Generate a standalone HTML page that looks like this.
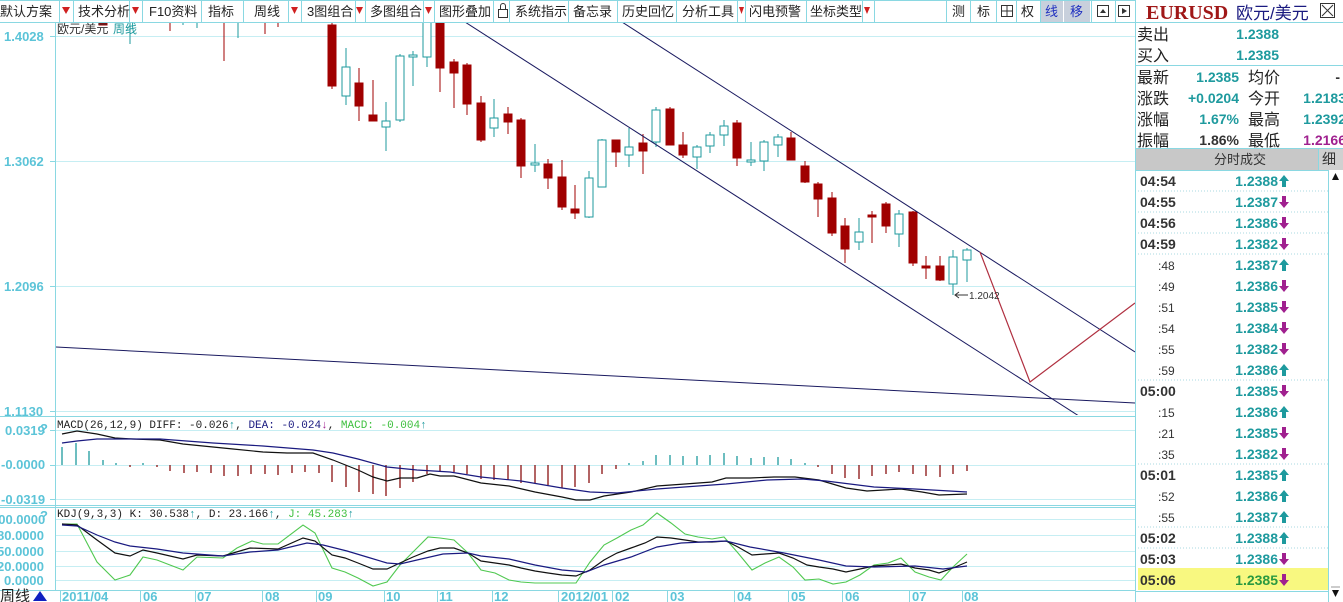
<!DOCTYPE html>
<html><head><meta charset="utf-8"><style>
html,body{margin:0;padding:0;background:#fff;overflow:hidden}
svg{display:block}
.tb{font:13px "Liberation Sans","Noto Sans CJK SC",sans-serif;fill:#222}
.ax{font:bold 13px "Liberation Sans",sans-serif;fill:#5cc4d8}
.lb{font:16px "Liberation Sans","Noto Sans CJK SC",sans-serif;fill:#222}
.v{font:bold 14px "Liberation Sans",sans-serif;fill:#1e9a9e}
.t{font:bold 14px "Liberation Sans",sans-serif;fill:#333}
.st{font:12px "Liberation Sans",sans-serif;fill:#333}
.mono{font:11px "Liberation Mono","Noto Sans CJK SC",monospace}
</style></head><body>
<svg width="1343" height="602" viewBox="0 0 1343 602" xmlns="http://www.w3.org/2000/svg">
<defs><clipPath id="cm"><rect x="56" y="23" width="1079" height="392"/></clipPath>
<symbol id="up" viewBox="0 0 10 12"><polygon points="5,0 10,6 7,6 7,12 3,12 3,6 0,6" fill="#1e9a9e"/></symbol>
<symbol id="dn" viewBox="0 0 10 12"><polygon points="5,12 10,6 7,6 7,0 3,0 3,6 0,6" fill="#a0208f"/></symbol>
</defs>

<!-- toolbar -->
<rect x="0" y="0" width="1135" height="22" fill="#fff"/>
<g stroke="#8ad8e2" stroke-width="1">
<line x1="0" y1="22.5" x2="1343" y2="22.5"/>
<line x1="0" y1="0.5" x2="1135" y2="0.5"/>
<line x1="59.5" y1="0" x2="59.5" y2="22"/><line x1="73.5" y1="0" x2="73.5" y2="22"/>
<line x1="129.5" y1="0" x2="129.5" y2="22"/><line x1="142.5" y1="0" x2="142.5" y2="22"/>
<line x1="201.5" y1="0" x2="201.5" y2="22"/><line x1="243.5" y1="0" x2="243.5" y2="22"/>
<line x1="288.5" y1="0" x2="288.5" y2="22"/><line x1="301.5" y1="0" x2="301.5" y2="22"/>
<line x1="355.5" y1="0" x2="355.5" y2="22"/><line x1="365.5" y1="0" x2="365.5" y2="22"/>
<line x1="423.5" y1="0" x2="423.5" y2="22"/><line x1="434.5" y1="0" x2="434.5" y2="22"/>
<line x1="493.5" y1="0" x2="493.5" y2="22"/><line x1="509.5" y1="0" x2="509.5" y2="22"/>
<line x1="568.5" y1="0" x2="568.5" y2="22"/><line x1="617.5" y1="0" x2="617.5" y2="22"/>
<line x1="676.5" y1="0" x2="676.5" y2="22"/><line x1="737.5" y1="0" x2="737.5" y2="22"/>
<line x1="745.5" y1="0" x2="745.5" y2="22"/><line x1="806.5" y1="0" x2="806.5" y2="22"/>
<line x1="862.5" y1="0" x2="862.5" y2="22"/><line x1="874.5" y1="0" x2="874.5" y2="22"/>
<line x1="946.5" y1="0" x2="946.5" y2="22"/><line x1="970.5" y1="0" x2="970.5" y2="22"/>
<line x1="996.5" y1="0" x2="996.5" y2="22"/><line x1="1016.5" y1="0" x2="1016.5" y2="22"/>
<line x1="1040.5" y1="0" x2="1040.5" y2="22"/><line x1="1091.5" y1="0" x2="1091.5" y2="22"/>
<line x1="1115.5" y1="0" x2="1115.5" y2="22"/><line x1="1135.5" y1="0" x2="1135.5" y2="602"/>
</g>
<rect x="1041" y="1" width="22" height="21" fill="#c8d0dc"/><rect x="1064" y="1" width="26" height="21" fill="#c8d0dc"/>
<g fill="#d02020">
<polygon points="62,7 70,7 66,14"/><polygon points="132,7 139,7 135.5,14"/><polygon points="291,7 298,7 294.5,14"/>
<polygon points="356,7 363,7 359.5,14"/><polygon points="425,7 432,7 428.5,14"/><polygon points="739,7 744,7 741.5,14"/><polygon points="864,7 870,7 867,14"/>
</g>
<g class="tb">
<text x="0" y="16">默认方案</text><text x="78" y="16">技术分析</text><text x="149" y="16">F10资料</text>
<text x="208" y="16">指标</text><text x="254" y="16">周线</text><text x="307" y="16">3图组合</text>
<text x="370" y="16">多图组合</text><text x="439" y="16">图形叠加</text><text x="515" y="16">系统指示</text>
<text x="573" y="16">备忘录</text><text x="622" y="16">历史回忆</text><text x="682" y="16">分析工具</text>
<text x="749" y="16">闪电预警</text><text x="810" y="16">坐标类型</text>
<text x="952" y="16">测</text><text x="977" y="16">标</text><text x="1021" y="16">权</text>
<text x="1045" y="16" style="fill:#2030c0">线</text><text x="1070" y="16" style="fill:#2030c0">移</text>
</g>
<g fill="none" stroke="#333"><rect x="498.5" y="9.5" width="9" height="8"/><path d="M500.5 9.5 V6 a2.5 2.5 0 0 1 5 0 V9.5"/>
<rect x="1001.5" y="5.5" width="11" height="11"/><line x1="1007" y1="5.5" x2="1007" y2="16.5"/><line x1="1001.5" y1="11" x2="1012.5" y2="11"/>
<rect x="1097.5" y="5.5" width="11" height="11"/><rect x="1118.5" y="5.5" width="11" height="11"/></g>
<polygon points="1100,13 1106,13 1103,9" fill="#333"/><polygon points="1122,8 1127,11 1122,14" fill="#333"/>

<!-- chart frames -->
<g stroke="#c6eef3" stroke-width="1">
<line x1="56" y1="36.5" x2="1135" y2="36.5"/><line x1="56" y1="161.5" x2="1135" y2="161.5"/>
<line x1="56" y1="286.5" x2="1135" y2="286.5"/><line x1="56" y1="411.5" x2="1135" y2="411.5"/>
<line x1="56" y1="430.5" x2="1135" y2="430.5"/><line x1="56" y1="465.5" x2="1135" y2="465.5"/><line x1="56" y1="499.5" x2="1135" y2="499.5"/>
<line x1="56" y1="519.5" x2="1135" y2="519.5"/><line x1="56" y1="535.5" x2="1135" y2="535.5"/><line x1="56" y1="551.5" x2="1135" y2="551.5"/>
<line x1="56" y1="566.5" x2="1135" y2="566.5"/><line x1="56" y1="580.5" x2="1135" y2="580.5"/>
</g>
<g stroke="#8ad8e2" stroke-width="1">
<line x1="55.5" y1="22" x2="55.5" y2="590"/>
<line x1="0" y1="416.5" x2="1135" y2="416.5"/><line x1="0" y1="505.5" x2="1135" y2="505.5"/><line x1="0" y1="507.5" x2="1135" y2="507.5"/>
<line x1="0" y1="590.5" x2="1135" y2="590.5"/>
<line x1="50" y1="36.5" x2="55" y2="36.5"/><line x1="50" y1="161.5" x2="55" y2="161.5"/><line x1="50" y1="286.5" x2="55" y2="286.5"/><line x1="50" y1="411.5" x2="55" y2="411.5"/>
<line x1="50" y1="430.5" x2="55" y2="430.5"/><line x1="50" y1="465.5" x2="55" y2="465.5"/><line x1="50" y1="499.5" x2="55" y2="499.5"/>
</g>
<g class="ax">
<text x="4" y="41">1.4028</text><text x="4" y="166">1.3062</text><text x="4" y="291">1.2096</text><text x="4" y="416">1.1130</text>
<text x="5" y="435">0.0319</text><text x="1" y="469">-0.0000</text><text x="1" y="504">-0.0319</text>
<text x="-9" y="524">100.0000</text><text x="-3" y="540">80.0000</text><text x="-3" y="556">50.0000</text><text x="-3" y="571">20.0000</text><text x="4" y="585">0.0000</text>
<text x="40" y="433">?</text><text x="40" y="520">?</text>
</g>

<!-- main candles -->
<g clip-path="url(#cm)">
<g stroke="#a00000" fill="#a00000">
<line x1="170" y1="22" x2="170" y2="31"/><line x1="224" y1="22" x2="224" y2="61"/><line x1="265" y1="22" x2="265" y2="34"/><line x1="278" y1="22" x2="278" y2="27"/>
<rect x="99" y="22" width="8" height="3"/>
</g>
<g stroke="#1e9a9e"><line x1="130" y1="22" x2="130" y2="44"/><line x1="197" y1="22" x2="197" y2="28"/><line x1="238" y1="22" x2="238" y2="38"/><line x1="183" y1="22" x2="183" y2="25"/></g>
<g stroke="#a00000" fill="#a00000" stroke-width="1">
<line x1="332" y1="20" x2="332" y2="89"/><rect x="328" y="25" width="8" height="61"/>
<line x1="359" y1="68" x2="359" y2="121"/><rect x="355" y="83" width="8" height="23"/>
<line x1="373" y1="80" x2="373" y2="121"/><rect x="369" y="115" width="8" height="6"/>
<line x1="440" y1="10" x2="440" y2="92"/><rect x="436" y="15" width="8" height="53"/>
<line x1="454" y1="59" x2="454" y2="108"/><rect x="450" y="62" width="8" height="11"/>
<line x1="467" y1="63" x2="467" y2="115"/><rect x="463" y="65" width="8" height="39"/>
<line x1="481" y1="96" x2="481" y2="142"/><rect x="477" y="103" width="8" height="37"/>
<line x1="508" y1="107" x2="508" y2="134"/><rect x="504" y="114" width="8" height="8"/>
<line x1="521" y1="118" x2="521" y2="178"/><rect x="517" y="120" width="8" height="46"/>
<line x1="548" y1="159" x2="548" y2="189"/><rect x="544" y="164" width="8" height="14"/>
<line x1="562" y1="160" x2="562" y2="210"/><rect x="558" y="177" width="8" height="30"/>
<line x1="575" y1="185" x2="575" y2="219"/><rect x="571" y="209" width="8" height="4"/>
<line x1="616" y1="140" x2="616" y2="167"/><rect x="612" y="140" width="8" height="12"/>
<line x1="643" y1="134" x2="643" y2="174"/><rect x="639" y="143" width="8" height="8"/>
<line x1="670" y1="107" x2="670" y2="145"/><rect x="666" y="109" width="8" height="36"/>
<line x1="683" y1="132" x2="683" y2="158"/><rect x="679" y="145" width="8" height="10"/>
<line x1="737" y1="120" x2="737" y2="166"/><rect x="733" y="123" width="8" height="35"/>
<line x1="791" y1="132" x2="791" y2="160"/><rect x="787" y="138" width="8" height="22"/>
<line x1="805" y1="161" x2="805" y2="183"/><rect x="801" y="166" width="8" height="16"/>
<line x1="818" y1="182" x2="818" y2="217"/><rect x="814" y="184" width="8" height="15"/>
<line x1="832" y1="192" x2="832" y2="236"/><rect x="828" y="198" width="8" height="35"/>
<line x1="845" y1="218" x2="845" y2="263"/><rect x="841" y="226" width="8" height="23"/>
<line x1="872" y1="211" x2="872" y2="243"/><rect x="868" y="215" width="8" height="2"/>
<line x1="886" y1="202" x2="886" y2="233"/><rect x="882" y="204" width="8" height="22"/>
<line x1="913" y1="211" x2="913" y2="266"/><rect x="909" y="212" width="8" height="51"/>
<line x1="926" y1="256" x2="926" y2="279"/><rect x="922" y="266" width="8" height="2"/>
<line x1="940" y1="256" x2="940" y2="281"/><rect x="936" y="266" width="8" height="14"/>
</g>
<g stroke="#1e9a9e" fill="#fff" stroke-width="1">
<line x1="346" y1="48" x2="346" y2="105"/><rect x="342" y="67" width="8" height="29"/>
<line x1="386" y1="102" x2="386" y2="151"/><rect x="382" y="121" width="8" height="6"/>
<line x1="400" y1="54" x2="400" y2="122"/><rect x="396" y="56" width="8" height="64"/>
<line x1="413" y1="51" x2="413" y2="86"/><rect x="409" y="55" width="8" height="2"/>
<line x1="427" y1="10" x2="427" y2="67"/><rect x="423" y="15" width="8" height="42"/>
<line x1="494" y1="99" x2="494" y2="137"/><rect x="490" y="118" width="8" height="10"/>
<line x1="535" y1="144" x2="535" y2="172"/><rect x="531" y="163" width="8" height="2"/>
<line x1="589" y1="171" x2="589" y2="218"/><rect x="585" y="178" width="8" height="39"/>
<line x1="602" y1="139" x2="602" y2="187"/><rect x="598" y="140" width="8" height="47"/>
<line x1="629" y1="128" x2="629" y2="167"/><rect x="625" y="147" width="8" height="8"/>
<line x1="656" y1="107" x2="656" y2="147"/><rect x="652" y="110" width="8" height="32"/>
<line x1="697" y1="145" x2="697" y2="169"/><rect x="693" y="147" width="8" height="10"/>
<line x1="710" y1="132" x2="710" y2="153"/><rect x="706" y="135" width="8" height="11"/>
<line x1="724" y1="120" x2="724" y2="146"/><rect x="720" y="126" width="8" height="9"/>
<line x1="751" y1="142" x2="751" y2="166"/><rect x="747" y="160" width="8" height="2"/>
<line x1="764" y1="140" x2="764" y2="171"/><rect x="760" y="142" width="8" height="19"/>
<line x1="778" y1="134" x2="778" y2="157"/><rect x="774" y="137" width="8" height="8"/>
<line x1="859" y1="218" x2="859" y2="250"/><rect x="855" y="232" width="8" height="10"/>
<line x1="899" y1="210" x2="899" y2="247"/><rect x="895" y="214" width="8" height="20"/>
<line x1="953" y1="250" x2="953" y2="295"/><rect x="949" y="257" width="8" height="27"/>
<line x1="967" y1="248" x2="967" y2="282"/><rect x="963" y="250" width="8" height="10"/>
</g>
<g stroke="#1a1a60" stroke-width="1" fill="none">
<line x1="465" y1="22" x2="1082" y2="418"/>
<line x1="622" y1="22" x2="1135" y2="352"/>
<line x1="55" y1="347" x2="1135" y2="403"/>
</g>
<polyline points="980,252 1030,382 1135,303" fill="none" stroke="#b03040" stroke-width="1.2"/>
<line x1="955" y1="295" x2="968" y2="295" stroke="#333"/><polyline points="959,292 955,295 959,298" fill="none" stroke="#333"/>
<text x="969" y="299" style="font:10px 'Liberation Sans',sans-serif;fill:#333">1.2042</text>
</g>
<text x="57" y="33" style="font:12px 'Liberation Sans','Noto Sans CJK SC',sans-serif;fill:#333">欧元/美元</text>
<text x="113" y="33" style="font:12px 'Liberation Sans','Noto Sans CJK SC',sans-serif;fill:#1e9a9e">周线</text>

<!-- MACD -->
<text x="57" y="428" class="mono"><tspan fill="#222">MACD(26,12,9) DIFF: -0.026</tspan><tspan fill="#1e9a9e">↑</tspan><tspan fill="#222">, </tspan><tspan fill="#1a1a80">DEA: -0.024</tspan><tspan fill="#a0208f">↓</tspan><tspan fill="#222">, </tspan><tspan fill="#40c040">MACD: -0.004</tspan><tspan fill="#1e9a9e">↑</tspan></text>
<g stroke="#1e9a9e" stroke-width="1.3">
<line x1="62" y1="465" x2="62" y2="447"/><line x1="76" y1="465" x2="76" y2="443"/><line x1="89" y1="465" x2="89" y2="451"/><line x1="103" y1="465" x2="103" y2="460"/><line x1="116" y1="465" x2="116" y2="463"/><line x1="143" y1="465" x2="143" y2="463"/>
<line x1="629" y1="465" x2="629" y2="463"/><line x1="643" y1="465" x2="643" y2="461"/><line x1="656" y1="465" x2="656" y2="455"/><line x1="670" y1="465" x2="670" y2="455"/><line x1="683" y1="465" x2="683" y2="456"/><line x1="697" y1="465" x2="697" y2="456"/><line x1="710" y1="465" x2="710" y2="455"/><line x1="724" y1="465" x2="724" y2="453"/><line x1="737" y1="465" x2="737" y2="456"/><line x1="751" y1="465" x2="751" y2="458"/><line x1="764" y1="465" x2="764" y2="457"/><line x1="778" y1="465" x2="778" y2="457"/><line x1="791" y1="465" x2="791" y2="459"/><line x1="805" y1="465" x2="805" y2="463"/>
</g>
<g stroke="#8a1010" stroke-width="1.3">
<line x1="130" y1="465" x2="130" y2="467"/><line x1="157" y1="465" x2="157" y2="467"/><line x1="170" y1="465" x2="170" y2="471"/><line x1="184" y1="465" x2="184" y2="473"/><line x1="197" y1="465" x2="197" y2="472"/><line x1="211" y1="465" x2="211" y2="473"/><line x1="224" y1="465" x2="224" y2="476"/><line x1="238" y1="465" x2="238" y2="476"/><line x1="251" y1="465" x2="251" y2="474"/><line x1="265" y1="465" x2="265" y2="474"/><line x1="278" y1="465" x2="278" y2="475"/><line x1="292" y1="465" x2="292" y2="473"/><line x1="305" y1="465" x2="305" y2="472"/><line x1="319" y1="465" x2="319" y2="473"/>
<line x1="332" y1="465" x2="332" y2="482"/><line x1="346" y1="465" x2="346" y2="487"/><line x1="359" y1="465" x2="359" y2="492"/><line x1="373" y1="465" x2="373" y2="494"/><line x1="386" y1="465" x2="386" y2="496"/><line x1="400" y1="465" x2="400" y2="488"/><line x1="413" y1="465" x2="413" y2="482"/><line x1="427" y1="465" x2="427" y2="474"/><line x1="440" y1="465" x2="440" y2="472"/><line x1="454" y1="465" x2="454" y2="472"/><line x1="467" y1="465" x2="467" y2="474"/><line x1="481" y1="465" x2="481" y2="479"/><line x1="494" y1="465" x2="494" y2="480"/><line x1="508" y1="465" x2="508" y2="480"/><line x1="521" y1="465" x2="521" y2="483"/><line x1="535" y1="465" x2="535" y2="483"/><line x1="548" y1="465" x2="548" y2="485"/><line x1="562" y1="465" x2="562" y2="488"/><line x1="575" y1="465" x2="575" y2="487"/><line x1="589" y1="465" x2="589" y2="483"/><line x1="602" y1="465" x2="602" y2="474"/><line x1="616" y1="465" x2="616" y2="469"/>
<line x1="818" y1="465" x2="818" y2="467"/><line x1="832" y1="465" x2="832" y2="474"/><line x1="845" y1="465" x2="845" y2="478"/><line x1="859" y1="465" x2="859" y2="479"/><line x1="872" y1="465" x2="872" y2="476"/><line x1="886" y1="465" x2="886" y2="474"/><line x1="899" y1="465" x2="899" y2="472"/><line x1="913" y1="465" x2="913" y2="474"/><line x1="926" y1="465" x2="926" y2="476"/><line x1="940" y1="465" x2="940" y2="477"/><line x1="953" y1="465" x2="953" y2="474"/><line x1="967" y1="465" x2="967" y2="471"/>
</g>
<polyline fill="none" stroke="#111" stroke-width="1.2" points="62,434 77,431 97,434 115,438 133,439 160,440 183,444 213,447 233,449 263,452 287,453 313,453 333,460 358,470 373,477 387,481 400,478 417,478 430,474 440,476 454,476 481,483 509,486 535,492 562,497 576,500 590,500 604,496 631,492 657,486 685,484 712,482 726,478 750,478 774,477 795,477 819,480 846,488 867,491 901,489 922,492 939,495 967,494"/>
<polyline fill="none" stroke="#1a1a80" stroke-width="1.2" points="62,443 77,441 97,439 133,439 160,439 213,443 263,446 313,450 333,453 358,459 387,467 417,470 450,472 481,477 521,481 562,488 590,492 617,493 657,489 698,486 726,484 767,480 802,479 826,481 874,487 915,489 967,492"/>

<!-- KDJ -->
<text x="57" y="517" class="mono"><tspan fill="#222">KDJ(9,3,3) K: 30.538</tspan><tspan fill="#1e9a9e">↑</tspan><tspan fill="#222">, D: 23.166</tspan><tspan fill="#1e9a9e">↑</tspan><tspan fill="#222">, </tspan><tspan fill="#40c040">J: 45.283</tspan><tspan fill="#1e9a9e">↑</tspan></text>
<polyline fill="none" stroke="#50c850" stroke-width="1.1" points="62,524 77,524 97,562 115,580 130,575 143,557 157,560 183,570 197,557 223,558 237,548 252,541 263,544 278,544 303,525 315,533 332,568 345,572 358,578 373,586 387,582 400,565 413,552 428,537 440,538 454,540 468,553 481,570 495,573 509,580 521,582 535,583 548,583 562,583 576,583 590,562 604,545 617,538 631,530 643,525 657,513 671,523 685,534 698,537 712,539 724,537 738,553 752,570 765,563 779,557 793,567 805,580 819,579 833,584 846,582 860,575 874,565 888,563 901,558 915,572 929,577 941,580 953,567 967,554"/>
<polyline fill="none" stroke="#111" stroke-width="1.2" points="62,524 77,525 97,540 115,553 130,556 143,550 157,553 183,559 197,555 223,556 250,548 278,549 303,538 315,541 332,555 345,558 358,563 373,569 387,569 400,563 413,557 428,551 440,548 454,548 468,553 481,561 495,563 509,565 521,568 535,571 548,573 562,575 576,576 590,570 604,560 617,553 631,548 645,543 657,537 671,538 685,540 698,542 712,542 726,541 738,547 752,555 765,554 779,553 793,558 807,565 819,567 833,569 846,572 860,569 874,566 888,565 901,564 915,568 929,570 939,573 953,568 967,562"/>
<polyline fill="none" stroke="#1a1a80" stroke-width="1.2" points="62,525 77,526 97,535 115,542 130,546 157,549 183,553 223,556 250,552 278,550 307,543 323,545 347,551 367,557 387,563 400,564 417,560 443,554 468,553 481,556 509,559 535,565 562,570 586,572 604,565 631,557 657,547 681,543 726,541 750,547 784,553 819,560 846,566 874,567 915,566 943,569 967,566"/>

<!-- bottom axis -->
<g stroke="#8ad8e2"><line x1="60.5" y1="590" x2="60.5" y2="602"/><line x1="140.5" y1="590" x2="140.5" y2="602"/><line x1="195.5" y1="590" x2="195.5" y2="602"/><line x1="262.5" y1="590" x2="262.5" y2="602"/><line x1="316.5" y1="590" x2="316.5" y2="602"/><line x1="384.5" y1="590" x2="384.5" y2="602"/><line x1="437.5" y1="590" x2="437.5" y2="602"/><line x1="492.5" y1="590" x2="492.5" y2="602"/><line x1="558.5" y1="590" x2="558.5" y2="602"/><line x1="612.5" y1="590" x2="612.5" y2="602"/><line x1="667.5" y1="590" x2="667.5" y2="602"/><line x1="734.5" y1="590" x2="734.5" y2="602"/><line x1="788.5" y1="590" x2="788.5" y2="602"/><line x1="842.5" y1="590" x2="842.5" y2="602"/><line x1="909.5" y1="590" x2="909.5" y2="602"/><line x1="962.5" y1="590" x2="962.5" y2="602"/></g>
<g class="ax"><text x="62" y="601">2011/04</text><text x="143" y="601">06</text><text x="197" y="601">07</text><text x="265" y="601">08</text><text x="318" y="601">09</text><text x="386" y="601">10</text><text x="439" y="601">11</text><text x="494" y="601">12</text><text x="561" y="601">2012/01</text><text x="615" y="601">02</text><text x="670" y="601">03</text><text x="737" y="601">04</text><text x="791" y="601">05</text><text x="845" y="601">06</text><text x="912" y="601">07</text><text x="964" y="601">08</text></g>
<text x="0" y="601" style="font:15px 'Liberation Sans','Noto Sans CJK SC',sans-serif;fill:#222">周线</text>
<polygon points="33,601 40,591 47,601" fill="#1020c0"/>

<!-- right panel -->
<text x="1146" y="19" style="font:bold 20px 'Liberation Serif',serif;fill:#a01818">EURUSD</text>
<text x="1236" y="19" style="font:17px 'Liberation Sans','Noto Sans CJK SC',sans-serif;fill:#1a1a80">欧元/美元</text>
<rect x="1320.5" y="3.5" width="14" height="14" fill="none" stroke="#333"/><path d="M1322 5 L1333 16 M1333 5 L1322 16" stroke="#333"/>
<g stroke="#8ad8e2"><line x1="1135" y1="65.5" x2="1343" y2="65.5"/><line x1="1135" y1="148.5" x2="1343" y2="148.5"/><line x1="1135" y1="170.5" x2="1328" y2="170.5"/><line x1="1328.5" y1="170" x2="1328.5" y2="602"/><line x1="1135" y1="591.5" x2="1328" y2="591.5"/></g>
<g class="lb"><text x="1137" y="40">卖出</text><text x="1137" y="61">买入</text><text x="1137" y="83">最新</text><text x="1137" y="104">涨跌</text><text x="1137" y="125">涨幅</text><text x="1137" y="146">振幅</text>
<text x="1248" y="83">均价</text><text x="1248" y="104">今开</text><text x="1248" y="125">最高</text><text x="1248" y="146">最低</text></g>
<g class="v" text-anchor="end"><text x="1279" y="39">1.2388</text><text x="1279" y="60">1.2385</text>
<text x="1239" y="82">1.2385</text><text x="1239" y="103">+0.0204</text><text x="1239" y="124">1.67%</text><text x="1239" y="145" style="fill:#333">1.86%</text>
<text x="1340" y="82" style="fill:#333">-</text><text x="1346" y="103">1.2183</text><text x="1346" y="124">1.2392</text><text x="1346" y="145" style="fill:#a0208f">1.2166</text></g>
<rect x="1136" y="149" width="192" height="21" fill="#c8c8c8"/><rect x="1319" y="149" width="24" height="21" fill="#d0d0d0"/>
<line x1="1318.5" y1="149" x2="1318.5" y2="170" stroke="#8ad8e2"/>
<text x="1214" y="164" style="font:13px 'Liberation Sans','Noto Sans CJK SC',sans-serif;fill:#333">分时成交</text>
<text x="1322" y="164" style="font:14px 'Liberation Sans','Noto Sans CJK SC',sans-serif;fill:#333">细</text>
<polygon points="1332,180 1339,180 1335.5,173" fill="#111"/><polygon points="1332,590 1339,590 1335.5,597" fill="#111"/><line x1="1331" y1="587" x2="1340" y2="587" stroke="#999"/>
<rect x="1138" y="568" width="190" height="22" fill="#f8f880"/>
<g stroke="#a8d8e0" stroke-dasharray="1,2"><line x1="1138" y1="191" x2="1328" y2="191"/><line x1="1138" y1="212" x2="1328" y2="212"/><line x1="1138" y1="233" x2="1328" y2="233"/><line x1="1138" y1="254" x2="1328" y2="254"/><line x1="1138" y1="380" x2="1328" y2="380"/><line x1="1138" y1="464" x2="1328" y2="464"/><line x1="1138" y1="527" x2="1328" y2="527"/><line x1="1138" y1="548" x2="1328" y2="548"/></g>
<g class="t"><text x="1140" y="186">04:54</text><text x="1140" y="207">04:55</text><text x="1140" y="228">04:56</text><text x="1140" y="249">04:59</text><text x="1140" y="396">05:00</text><text x="1140" y="480">05:01</text><text x="1140" y="543">05:02</text><text x="1140" y="564">05:03</text><text x="1140" y="585">05:06</text></g>
<g class="st"><text x="1158" y="270">:48</text><text x="1158" y="291">:49</text><text x="1158" y="312">:51</text><text x="1158" y="333">:54</text><text x="1158" y="354">:55</text><text x="1158" y="375">:59</text><text x="1158" y="417">:15</text><text x="1158" y="438">:21</text><text x="1158" y="459">:35</text><text x="1158" y="501">:52</text><text x="1158" y="522">:55</text></g>
<g class="v" text-anchor="end"><text x="1278" y="186">1.2388</text><text x="1278" y="207">1.2387</text><text x="1278" y="228">1.2386</text><text x="1278" y="249">1.2382</text><text x="1278" y="270">1.2387</text><text x="1278" y="291">1.2386</text><text x="1278" y="312">1.2385</text><text x="1278" y="333">1.2384</text><text x="1278" y="354">1.2382</text><text x="1278" y="375">1.2386</text><text x="1278" y="396">1.2385</text><text x="1278" y="417">1.2386</text><text x="1278" y="438">1.2385</text><text x="1278" y="459">1.2382</text><text x="1278" y="480">1.2385</text><text x="1278" y="501">1.2386</text><text x="1278" y="522">1.2387</text><text x="1278" y="543">1.2388</text><text x="1278" y="564">1.2386</text><text x="1278" y="585" style="fill:#2a9a40">1.2385</text></g>
<use href="#up" x="1279" y="175" width="10" height="12"/><use href="#dn" x="1279" y="196" width="10" height="12"/><use href="#dn" x="1279" y="217" width="10" height="12"/><use href="#dn" x="1279" y="238" width="10" height="12"/>
<use href="#up" x="1279" y="259" width="10" height="12"/><use href="#dn" x="1279" y="280" width="10" height="12"/><use href="#dn" x="1279" y="301" width="10" height="12"/><use href="#dn" x="1279" y="322" width="10" height="12"/>
<use href="#dn" x="1279" y="343" width="10" height="12"/><use href="#up" x="1279" y="364" width="10" height="12"/><use href="#dn" x="1279" y="385" width="10" height="12"/><use href="#up" x="1279" y="406" width="10" height="12"/>
<use href="#dn" x="1279" y="427" width="10" height="12"/><use href="#dn" x="1279" y="448" width="10" height="12"/><use href="#up" x="1279" y="469" width="10" height="12"/><use href="#up" x="1279" y="490" width="10" height="12"/>
<use href="#up" x="1279" y="511" width="10" height="12"/><use href="#up" x="1279" y="532" width="10" height="12"/><use href="#dn" x="1279" y="553" width="10" height="12"/><use href="#dn" x="1279" y="574" width="10" height="12"/>
</svg>
</body></html>
